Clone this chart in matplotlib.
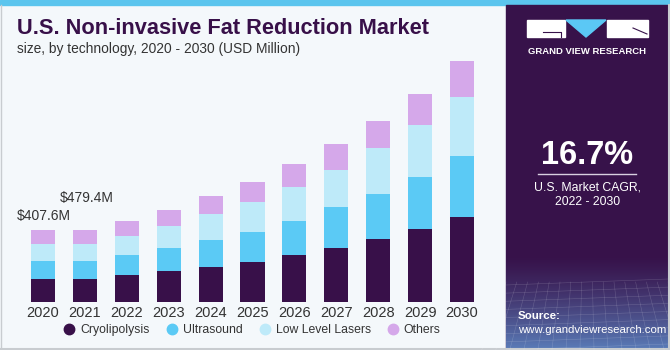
import numpy as np
import matplotlib.pyplot as plt
from matplotlib.patches import Rectangle, Polygon
from matplotlib.lines import Line2D

years = ['2020', '2021', '2022', '2023', '2024', '2025', '2026', '2027', '2028', '2029', '2030']
cryolipolysis = [130, 130, 153, 175, 198, 226, 266, 306, 357, 413, 481]
ultrasound = [102, 102, 113, 130, 153, 170, 192, 232, 255, 294, 345]
low_level_lasers = [96, 96, 108, 125, 147, 170, 192, 209, 260, 294, 334]
others = [79, 79, 85, 91, 102, 113, 130, 147, 153, 175, 204]
series_names = ['Cryolipolysis', 'Ultrasound', 'Low Level Lasers', 'Others']
colors = ['#381049', '#5bcaf5', '#beeaf9', '#d5a8ea']

W, H = 670, 350
bg_col = '#f4f8fb'
panel_col = '#37124a'

plt.rcParams['font.family'] = ['Liberation Sans', 'DejaVu Sans']

fig = plt.figure(figsize=(6.7, 3.5), dpi=100, facecolor=bg_col)

# background / decoration layer in pixel coords
bg = fig.add_axes([0, 0, 1, 1], zorder=-1)
bg.set_xlim(0, W)
bg.set_ylim(H, 0)
bg.axis('off')
bg.add_patch(Rectangle((0, 0), W, H, color=bg_col))
bg.add_patch(Rectangle((0, 0), W, 5, color='#5bc5ee'))
bg.plot([0.5, 0.5], [5, H], color='#c8ccd0', lw=1)
bg.plot([0, W], [H - 1, H - 1], color='#c8ccd0', lw=1.5)

# right panel
px0, px1 = 506, 668
bg.add_patch(Rectangle((px0, 5), px1 - px0, H - 5, color=panel_col))
grad = np.linspace(0, 1, 100)[:, None]
top = np.array([0x37, 0x12, 0x4a]) / 255
bot = np.array([0x5a, 0x7c, 0xb8]) / 255
img = np.zeros((100, 1, 4))
img[..., :3] = top + (bot - top) * grad[..., None] ** 1.3
img[..., 3] = 1
bg.imshow(img, extent=[px0, px1, H, 255], aspect='auto', zorder=1)
# faint grid texture
for yy in np.linspace(285, H, 9):
    bg.plot([px0, px1], [yy, yy - 6], color='white', lw=0.4, alpha=0.18, zorder=2)
for xx in np.linspace(px0, px1, 16):
    bg.plot([xx, xx + (xx - 587) * 0.3], [282, H], color='white', lw=0.4, alpha=0.18, zorder=2)
bg.plot([px1 + 1, px1 + 1], [5, H], color='#c8ccd0', lw=1.5)

# logo
bg.add_patch(Rectangle((527, 20), 38, 17, color='white', zorder=3))
bg.plot([543, 561, 561], [32, 32, 37], color=panel_col, lw=0.8, zorder=4)
bg.add_patch(Polygon([[566, 20], [606, 20], [586, 37]], closed=True, color='#5bc8f5', zorder=3))
bg.add_patch(Rectangle((607, 20), 41, 17, color='white', zorder=3))
bg.plot([633, 647], [28, 34], color=panel_col, lw=0.8, zorder=4)
bg.text(587.5, 51, 'GRAND VIEW RESEARCH', color='white', fontsize=6.8, fontweight='bold',
        ha='center', va='center', zorder=4)

bg.text(587.5, 155, '16.7%', color='white', fontsize=23.5, fontweight='bold',
        ha='center', va='center', zorder=4)
bg.plot([538, 636], [173.5, 173.5], color='#d8d0e0', lw=1, zorder=4)
bg.text(587.5, 187, 'U.S. Market CAGR,', color='white', fontsize=8.8, ha='center', va='center', zorder=4)
bg.text(587.5, 202, '2022 - 2030', color='white', fontsize=8.8, ha='center', va='center', zorder=4)
bg.text(518, 316, 'Source:', color='white', fontsize=8.2, fontweight='bold', ha='left', va='center', zorder=4)
bg.text(518, 330, 'www.grandviewresearch.com', color='white', fontsize=8.2, ha='left', va='center', zorder=4)

# titles
bg.text(17, 29, 'U.S. Non-invasive Fat Reduction Market', color='#381049', fontsize=15.7,
        fontweight='bold', ha='left', va='center')
bg.text(17, 49, 'size, by technology, 2020 - 2030 (USD Million)', color='#333333', fontsize=9.9,
        ha='left', va='center')

# bar chart
base_px, top_px = 302, 50
scale = 407.6 / 72
ax = fig.add_axes([0, (H - base_px) / H, 500 / W, (base_px - top_px) / H])
ax.set_facecolor('none')
x = np.arange(len(years))
bottom = np.zeros(len(years))
for vals, name, c in zip([cryolipolysis, ultrasound, low_level_lasers, others], series_names, colors):
    ax.bar(x, vals, 0.573, bottom=bottom, color=c, label=name, edgecolor='none')
    bottom += np.array(vals)
ax.set_xlim(-43 / 41.9, (500 - 43) / 41.9)
ax.set_ylim(0, (base_px - top_px) * scale)
ax.set_xticks(x)
ax.set_xticklabels(years, fontsize=10.5, color='#333333')
ax.tick_params(axis='x', length=0, pad=3)
ax.set_yticks([])
for s in ax.spines.values():
    s.set_visible(False)

ax.annotate('$407.6M', (x[0], bottom[0]), xytext=(-26, 14), textcoords='offset pixels',
            fontsize=10, color='#333333', ha='left', va='center')
ax.annotate('$479.4M', (x[1], bottom[1]), xytext=(-25, 32), textcoords='offset pixels',
            fontsize=10, color='#333333', ha='left', va='center')

handles = [Line2D([], [], marker='o', linestyle='', color=c, markersize=7.5) for c in colors]
fig.legend(handles, series_names, loc='center', bbox_to_anchor=(252 / W, 1 - 330 / H), ncol=4,
           frameon=False, fontsize=8.8, handlelength=1.0, handletextpad=0.4, columnspacing=1.3,
           labelcolor='#333333')

fig.savefig('out.png', dpi=100, facecolor=bg_col)
